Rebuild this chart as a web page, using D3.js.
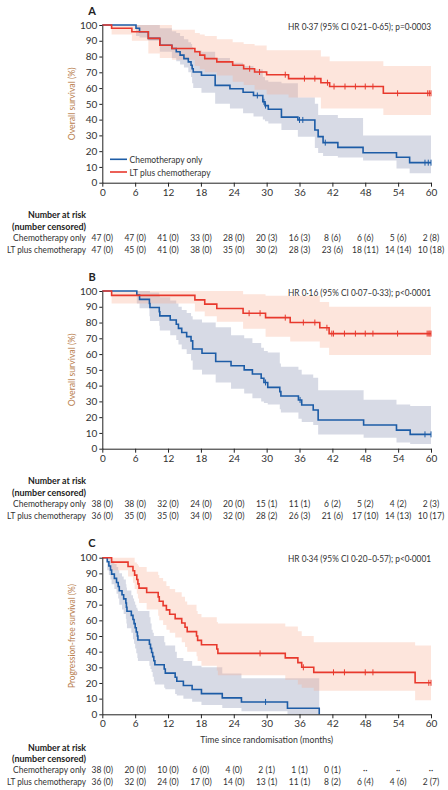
<!DOCTYPE html>
<html><head><meta charset="utf-8">
<script src="https://cdn.jsdelivr.net/npm/d3@7"></script>
<style>
body{margin:0;background:#fff;}
svg text{font-family:"Lato","Open Sans","Roboto",sans-serif;}
</style></head><body>
<svg id="c" width="448" height="790"></svg>
<script>
// ---------- data ----------
const monthTicks = [0,6,12,18,24,30,36,42,48,54,60];
const survTicks = [0,10,20,30,40,50,60,70,80,90,100];
const seriesNames = ["Chemotherapy only","LT plus chemotherapy"];

// Panel A – overall survival
const aChemoTime  = [0,6.15,6.8,8.4,10.5,12.7,13.5,14.2,14.9,15.7,16.2,16.4,16.6,18.1,20.6,23.3,25.7,27.6,29.3,29.7,30.3,32.7,35.7,38.8,39.4,40.3,43.0,47.6,53.7,56.1];
const aChemoSurv  = [100,97.9,95.7,91.5,87.2,85.1,83.0,80.9,78.7,76.6,74.5,72.3,70.2,68.1,61.7,59.6,57.4,55.3,51.3,48.9,46.6,41.6,39.8,33.4,29.2,25.4,22.4,19.0,16.1,12.7];
const aChemoLower = [100,93,92,90,83,79,77,75,73,70,67,63,60,57,50,47,44,42,40,39,37.6,33.4,29.2,22,18.8,17,16,14,9,6];
const aChemoUpper = [100,100,100,100,98,96,95,93,91,89,88,86,84,83,79,76,74,72,67,65,64,63,54,50,43,43,41,30,30,30];
const aChemoCensor = [28.3,29.5,29.8,36.0,36.6,40.7,58.9,59.5,60];
const aLTTime  = [0,1.7,5.4,8.4,10.5,12.7,16.9,17.8,18.7,20.9,23.8,25.8,27.8,30.0,34.0,39.9,41.5,51.3];
const aLTSurv  = [100,97.9,95.7,91.5,87.2,85.1,83.0,80.9,78.7,76.6,74.5,72.3,70.2,68.5,66.0,63.4,61.0,56.7];
const aLTLower = [100,94,90,82,79,78,74,72,70,68,64,62,59,56,54,47,47,43];
const aLTUpper = [100,100,100,100,100,97,95,94,93,91,89,88,87,84,84,80,77,74];
const aLTCensor = [26.9,28.7,33.4,36.9,38.8,41.1,42.3,44.3,46.2,48.0,49.4,53.9,59.4,59.7,60];
const aRiskChemo = ["47 (0)","47 (0)","41 (0)","33 (0)","28 (0)","20 (3)","16 (3)","8 (6)","6 (6)","5 (6)","2 (8)"];
const aRiskLT    = ["47 (0)","45 (0)","41 (0)","38 (0)","35 (0)","30 (2)","28 (3)","23 (6)","18 (11)","14 (14)","10 (18)"];

// Panel B – overall survival
const bChemoTime  = [0,6.3,6.8,8.6,8.7,10.4,10.5,12.4,13.5,13.9,14.5,15.4,16.2,16.5,18.2,20.7,23.5,25.9,27.4,29.0,29.5,30.2,32.4,32.6,35.8,36.4,38.5,39.4,47.7,53.7,56.2];
const bChemoSurv  = [100,97.4,94.7,92.1,89.5,86.8,84.2,81.6,78.9,76.3,73.7,71.1,68.4,63.2,60.5,55.3,52.6,50.0,47.4,44.7,42.0,38.9,36.2,33.4,30.9,27.7,24.5,18.2,15.0,11.8,9.1];
const bChemoLower = [100,92,89,84,81,78,75,72,69,66,63,60,56,50,47,42,38,35,32,30,29,28,25,23,19,17,15,9,7,4,3];
const bChemoUpper = [100,100,100,100,99,97,96,94,92,90,88,86,84,82,80,77,72,70,67,64,62,61,54,52,50,47,45,37,31,28,27];
const bChemoCensor = [29.8,36.1,58.9,60];
const bLTTime  = [0,1.7,16.9,18.7,20.9,25.7,29.8,34.3,39.7,41.4];
const bLTSurv  = [100,97.2,94.4,91.7,88.9,85.9,83.1,80.0,76.7,73.0];
const bLTLower = [100,92,87,84,80.5,76,71,68,64,59.4];
const bLTUpper = [100,100,100,100,100,98,97,97,93,90];
const bLTCensor = [26.8,28.8,33.4,36.7,38.8,41.0,41.9,42.2,44.2,46.2,48.0,49.4,53.9,59.3,59.6,59.8,60];
const bRiskChemo = ["38 (0)","38 (0)","32 (0)","24 (0)","20 (0)","15 (1)","11 (1)","6 (2)","5 (2)","4 (2)","2 (3)"];
const bRiskLT    = ["36 (0)","35 (0)","35 (0)","34 (0)","32 (0)","28 (2)","26 (3)","21 (6)","17 (10)","14 (13)","10 (17)"];

// Panel C – progression-free survival
const cChemoTime  = [0,0.9,1.2,1.5,1.7,2.2,2.6,2.9,3.1,3.6,3.9,4.3,4.4,4.5,5.3,5.6,5.8,6.0,6.2,6.4,6.5,8.6,8.8,9.0,9.2,9.4,9.6,11.3,11.5,13.3,13.6,14.8,16.4,18.1,21.9,25.4,33.8,39.6];
const cChemoSurv  = [100,97.4,94.7,92.1,89.5,86.8,84.2,81.6,78.9,76.3,73.7,71.1,68.4,65.8,63.2,60.5,57.9,55.3,52.6,50.0,47.4,44.7,42.1,39.5,36.8,34.2,31.6,28.9,26.3,23.7,21.1,18.4,15.8,13.2,10.5,7.9,3.9,0];
const cChemoLower = [100,92,89,86,83,80,77,74,70,67,64,61,58,55,52,48,45,42,39,36,34,31,29,27,24,21,19,17,16,13,12,10,8,6,4,2,0,0];
const cChemoUpper = [100,100,100,100,98,96,94,92,90,88,86,83,81,79,76,74,72,70,68,67,66,62,58,54,52,50,50,46,44,40,36,34,31,30,26,23,23,0];
const cChemoCensor = [29.8];
const cLTTime  = [0,1.7,4.7,5.6,5.9,6.3,6.5,6.7,8.1,10.2,10.4,11.1,11.7,12.3,13.3,14.5,15.1,15.5,17.2,17.4,18.1,20.9,21.1,33.4,35.7,36.4,38.6,57.1];
const cLTSurv  = [100,97.2,94.4,91.7,88.9,86.1,83.3,80.6,77.8,75.0,72.2,69.4,66.7,63.9,61.1,58.3,55.6,52.8,50.0,47.2,44.4,41.7,38.9,36.0,33.0,30.0,26.8,20.1];
const cLTLower = [100,92,88,84,80,77,74,71,67,63,60,57,54,52,49,46,43,40,37,34,31,28,25,22,19,17,15,9];
const cLTUpper = [100,100,100,100,97,96,95,94,91,89,87,85,82,80,78,75,72,70,66,64,62,59,58,56,53,50,46,44];
const cLTCensor = [28.8,36.7,42.2,44.2,48.0,49.4,59.6,60];
const cRiskChemo = ["38 (0)","20 (0)","10 (0)","6 (0)","4 (0)","2 (1)","1 (1)","0 (1)","··","··","··"];
const cRiskLT    = ["36 (0)","32 (0)","24 (0)","17 (0)","14 (0)","13 (1)","11 (1)","8 (2)","6 (4)","4 (6)","2 (7)"];

// ---------- drawing ----------
const BLUE = "#1d5ca6", RED = "#e8392d";
const svg = d3.select("#c");
const x = d3.scaleLinear().domain([0,60]).range([102.3,431]);

function build(time, surv, lo, hi, end){
  const pts = time.map((t,i)=>({t, s:surv[i], lo:lo[i], hi:hi[i]}));
  const last = pts[pts.length-1];
  if (end > last.t) pts.push({t:end, s:last.s, lo:last.lo, hi:last.hi});
  return pts;
}
function survAt(time, surv, t){
  let v = surv[0];
  for (let i=0;i<time.length;i++) if (time[i] <= t) v = surv[i];
  return v;
}
function fitW(sel, w){ sel.attr("textLength", w).attr("lengthAdjust","spacingAndGlyphs"); return sel; }
function squeeze(sel, k){ sel.each(function(){ const L=this.getComputedTextLength(); d3.select(this).attr("textLength",L*k).attr("lengthAdjust","spacingAndGlyphs"); }); return sel; }

const probe = svg.append("text").style("font-size","9.2px").text("47 (0)");
const cellK = Math.min(1, 21.5 / probe.node().getComputedTextLength());
probe.remove();

const panels = [
  {label:"A", y100:25, y0:182.7, hr:"HR 0·37 (95% CI 0·21–0·65); p=0·0003", ytitle:"Overall survival (%)", ytw:73, legend:true, xtitle:false,
   chemo:[aChemoTime,aChemoSurv,aChemoLower,aChemoUpper,aChemoCensor,60], lt:[aLTTime,aLTSurv,aLTLower,aLTUpper,aLTCensor,60],
   risk:[aRiskChemo,aRiskLT], rows:[214,226,237,249]},
  {label:"B", y100:291, y0:448.7, hr:"HR 0·16 (95% CI 0·07–0·33); p<0·0001", ytitle:"Overall survival (%)", ytw:73, legend:false, xtitle:false,
   chemo:[bChemoTime,bChemoSurv,bChemoLower,bChemoUpper,bChemoCensor,60], lt:[bLTTime,bLTSurv,bLTLower,bLTUpper,bLTCensor,60],
   risk:[bRiskChemo,bRiskLT], rows:[480,492,503,515]},
  {label:"C", y100:557.7, y0:714.3, hr:"HR 0·34 (95% CI 0·20–0·57); p<0·0001", ytitle:"Progression-free survival (%)", ytw:104, legend:false, xtitle:true,
   chemo:[cChemoTime,cChemoSurv,cChemoLower,cChemoUpper,cChemoCensor,39.6], lt:[cLTTime,cLTSurv,cLTLower,cLTUpper,cLTCensor,60],
   risk:[cRiskChemo,cRiskLT], rows:[747,758,769,781]}
];

panels.forEach(p=>{
  const y = d3.scaleLinear().domain([0,100]).range([p.y0,p.y100]);
  const g = svg.append("g");
  const area = d3.area().curve(d3.curveStepAfter).x(d=>x(d.t)).y0(d=>y(d.lo)).y1(d=>y(d.hi));
  const line = d3.line().curve(d3.curveStepAfter).x(d=>x(d.t)).y(d=>y(d.s));
  const cs = build(p.chemo[0],p.chemo[1],p.chemo[2],p.chemo[3],p.chemo[5]);
  const ls = build(p.lt[0],p.lt[1],p.lt[2],p.lt[3],p.lt[5]);
  g.append("path").attr("d",area(cs)).attr("fill","#9aa3bd").attr("fill-opacity",0.4);
  g.append("path").attr("d",area(ls)).attr("fill","#f9a88a").attr("fill-opacity",0.3);
  g.append("path").attr("d",line(cs)).attr("fill","none").attr("stroke",BLUE).attr("stroke-width",1.6);
  g.append("path").attr("d",line(ls)).attr("fill","none").attr("stroke",RED).attr("stroke-width",1.6);
  [[p.chemo,BLUE],[p.lt,RED]].forEach(([s,col])=>{
    g.selectAll(null).data(s[4]).enter().append("line")
      .attr("x1",d=>x(d)).attr("x2",d=>x(d))
      .attr("y1",d=>y(survAt(s[0],s[1],d))-3).attr("y2",d=>y(survAt(s[0],s[1],d))+3)
      .attr("stroke",col).attr("stroke-width",1);
  });
  const ya = g.append("g").attr("transform",`translate(${x(0)},0)`)
    .call(d3.axisLeft(y).tickValues(survTicks).tickSize(3).tickPadding(2).tickSizeOuter(0));
  const xa = g.append("g").attr("transform",`translate(0,${p.y0})`)
    .call(d3.axisBottom(x).tickValues(monthTicks).tickSize(4).tickPadding(2).tickSizeOuter(0));
  [ya,xa].forEach(a=>{
    a.attr("font-family",null).attr("font-size",null);
    a.selectAll("path,line").attr("stroke","#222").attr("stroke-width",1);
    a.selectAll("text").attr("fill","#333").style("font-size","10px");
  });
  g.append("text").attr("x",92).attr("y",p.y100-15).attr("dominant-baseline","central")
    .attr("text-anchor","middle").style("font-weight","bold").style("font-size","11px").attr("fill","#222").text(p.label);
  fitW(g.append("text").attr("x",431).attr("y",p.y100+1).attr("dominant-baseline","central")
    .attr("text-anchor","end").style("font-size","9px").attr("fill","#333").text(p.hr), 143);
  fitW(g.append("text").attr("transform",`translate(71,${(p.y0+p.y100)/2}) rotate(-90)`)
    .attr("dominant-baseline","central").attr("text-anchor","middle")
    .style("font-size","9px").attr("fill","#b9804f").text(p.ytitle), p.ytw);
  if (p.legend){
    [[BLUE,159.3,seriesNames[0],73],[RED,172,seriesNames[1],81]].forEach(([col,yy,t,w])=>{
      g.append("line").attr("x1",110).attr("x2",127).attr("y1",yy).attr("y2",yy).attr("stroke",col).attr("stroke-width",1.6);
      fitW(g.append("text").attr("x",129.5).attr("y",yy).attr("dominant-baseline","central")
        .style("font-size","10px").attr("fill","#333").text(t), w);
    });
  }
  if (p.xtitle){
    fitW(g.append("text").attr("x",(x(0)+x(60))/2).attr("y",739).attr("dominant-baseline","central")
      .attr("text-anchor","middle").style("font-size","9.5px").attr("fill","#333").text("Time since randomisation (months)"), 133);
  }
  fitW(g.append("text").attr("x",86).attr("y",p.rows[0]).attr("text-anchor","end").attr("dominant-baseline","central")
    .style("font-size","9.5px").style("font-weight","bold").attr("fill","#222").text("Number at risk"), 58);
  fitW(g.append("text").attr("x",86).attr("y",p.rows[1]).attr("text-anchor","end").attr("dominant-baseline","central")
    .style("font-size","9.5px").style("font-weight","bold").attr("fill","#222").text("(number censored)"), 74);
  p.risk.forEach((r,ri)=>{
    const yy = p.rows[2+ri];
    fitW(g.append("text").attr("x",86).attr("y",yy).attr("text-anchor","end").attr("dominant-baseline","central")
      .style("font-size","9px").attr("fill","#333").text(seriesNames[ri]), ri===0?73:79);
    squeeze(g.selectAll(null).data(r).enter().append("text")
      .attr("x",(d,i)=>x(monthTicks[i])).attr("y",yy).attr("text-anchor","middle").attr("dominant-baseline","central")
      .style("font-size","9.2px").attr("fill","#333").text(d=>d), cellK);
  });
});
</script>
</body></html>
